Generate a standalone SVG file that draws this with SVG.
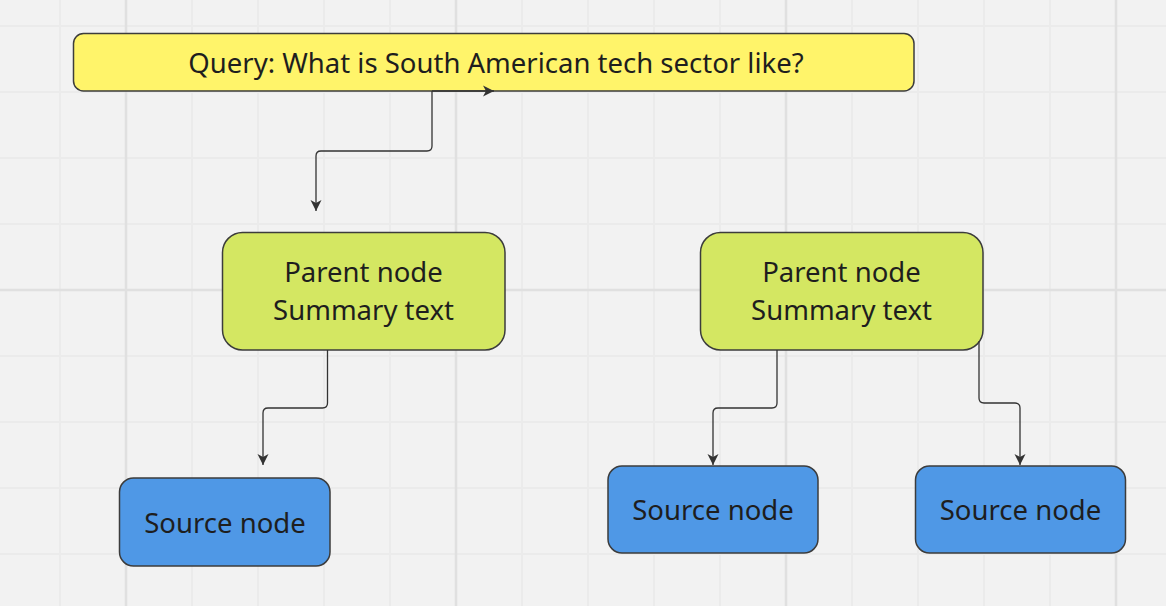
<svg xmlns="http://www.w3.org/2000/svg" width="1166" height="606" viewBox="0 0 1166 606">
<defs>
<style>
.bg{fill:#f2f2f2}
.gmin{stroke:#ebebeb;stroke-width:2}
.gmaj{stroke:#e0e0e0;stroke-width:2.5}
.node{stroke:#3c3c3c;stroke-width:1.5}
.q{fill:#fff46a}
.p{fill:#d4e762}
.s{fill:#4f98e6}
.t{font-family:"Noto Sans","Open Sans",sans-serif;fill:#1e1e1e;text-anchor:middle;font-size:27.5px}
.c{fill:none;stroke:#333;stroke-width:1.3}
</style>
<marker id="arr" viewBox="0 0 12 12" refX="11" refY="6" markerWidth="12" markerHeight="12" markerUnits="userSpaceOnUse" orient="auto">
<path d="M0,0.5 L11,6 L0,11.5 L3,6 Z" fill="#333"/>
</marker>
</defs>
<rect class="bg" x="0" y="0" width="1166" height="606"/>
<g id="grid">
<path class="gmin" d="M60,0V606 M192,0V606 M258,0V606 M324,0V606 M390,0V606 M522,0V606 M588,0V606 M654,0V606 M720,0V606 M852,0V606 M918,0V606 M984,0V606 M1050,0V606 M0,26H1166 M0,92H1166 M0,158H1166 M0,224H1166 M0,356H1166 M0,422H1166 M0,488H1166 M0,554H1166"/>
<path class="gmaj" d="M126,0V606 M456,0V606 M786,0V606 M1116,0V606 M0,290H1166"/>
</g>
<g id="query">
<rect class="node q" x="73.5" y="33.5" width="840.5" height="57.5" rx="10"/>
<text class="t" x="496" y="73">Query: What is South American tech sector like?</text>
</g>
<g id="parent1">
<rect class="node p" x="222.5" y="232.5" width="282.5" height="117.5" rx="20"/>
<text class="t" x="363.5" y="282">Parent node</text>
<text class="t" x="363.5" y="320">Summary text</text>
</g>
<g id="parent2">
<rect class="node p" x="700.5" y="232.5" width="282.5" height="117.5" rx="20"/>
<text class="t" x="841.5" y="282">Parent node</text>
<text class="t" x="841.5" y="320">Summary text</text>
</g>
<g id="source1">
<rect class="node s" x="119.5" y="478" width="210.5" height="88" rx="14"/>
<text class="t" x="225" y="533">Source node</text>
</g>
<g id="source2">
<rect class="node s" x="608" y="466" width="210" height="87" rx="14"/>
<text class="t" x="713" y="520">Source node</text>
</g>
<g id="source3">
<rect class="node s" x="915.5" y="466" width="210" height="87" rx="14"/>
<text class="t" x="1020.5" y="520">Source node</text>
</g>
<g id="connectors">
<path class="c" d="M432,91 H494" marker-end="url(#arr)"/>
<path class="c" d="M432,91 V146 Q432,151 427,151 H321 Q316,151 316,156 V211" marker-end="url(#arr)"/>
<path class="c" d="M327.5,350 V403 Q327.5,408 322.5,408 H268 Q263,408 263,413 V465" marker-end="url(#arr)"/>
<path class="c" d="M777,350 V403 Q777,408 772,408 H718 Q713,408 713,413 V465" marker-end="url(#arr)"/>
<path class="c" d="M979,341 V398 Q979,403 984,403 H1015 Q1020,403 1020,408 V465" marker-end="url(#arr)"/>
</g>
</svg>
